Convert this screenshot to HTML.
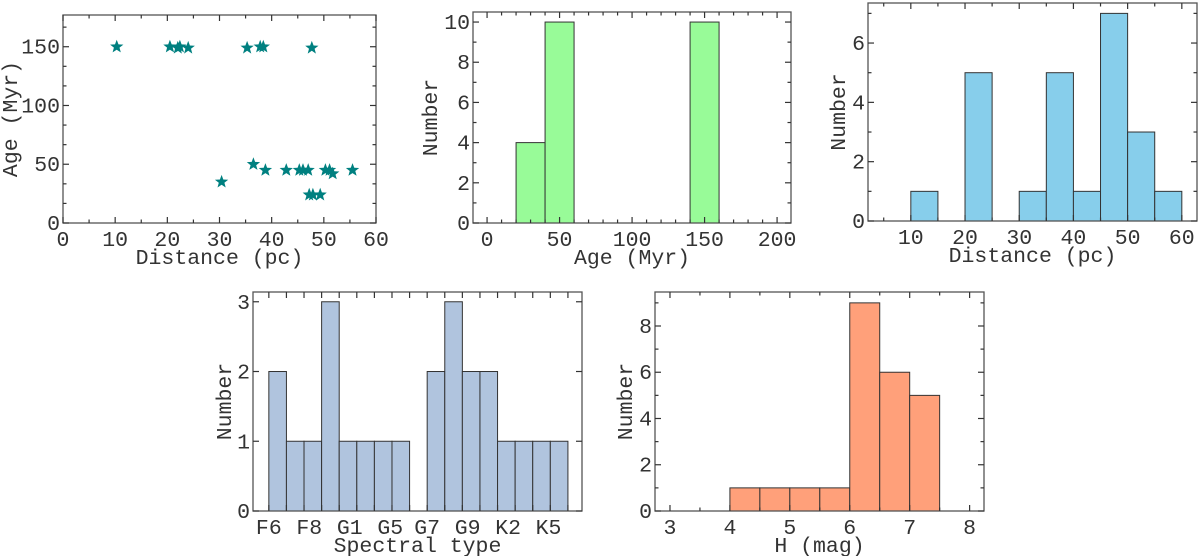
<!DOCTYPE html>
<html><head><meta charset="utf-8">
<style>
html,body{margin:0;padding:0;background:#fff;}
svg{display:block;}
text{font-family:"Liberation Mono",monospace;fill:#333;}
</style></head>
<body>
<svg id="fig" width="1200" height="556" viewBox="0 0 1200 556" xmlns="http://www.w3.org/2000/svg"></svg>
<script>
// Panel 1: scatter distance vs age
const scatterDist = [10.3,20.5,22,22.4,24,35.3,37.8,38.4,47.7,30.4,36.5,38.8,42.8,45.3,46.0,47.0,47.2,47.9,49.3,50.3,51.1,51.7,55.5];
const scatterAge  = [150,150,149,150,149,149,150,150,149,35,50,45,45,45,45,45,24,24,24,45,45,42,45];
// Panel 2: age histogram
const ageBinEdges = [20,40,60,140,160];
const ageCounts = [4,10,0,10];
const ageTicks = [0,50,100,150,200];
// Panel 3: distance histogram
const distBinEdges = [10,15,20,25,30,35,40,45,50,55,60];
const distCounts = [1,0,5,0,1,5,1,7,3,1];
const distTicks = [10,20,30,40,50,60];
// Panel 4: spectral types
const specCounts = [2,1,1,3,1,1,1,1,0,2,3,2,2,1,1,1,1];
const specLabels = ["F6","F8","G1","G5","G7","G9","K2","K5"];
const specLabelPos = [0,2.3,4.6,6.9,9,11.3,13.6,15.9];
// Panel 5: H mag histogram
const hBinEdges = [4,4.5,5,5.5,6,6.5,7,7.5];
const hCounts = [1,1,1,1,9,6,5];
const hTicks = [3,4,5,6,7,8];

const NS="http://www.w3.org/2000/svg";
const svg=document.getElementById('fig');
function el(tag,attrs,parent){const e=document.createElementNS(NS,tag);for(const k in attrs)e.setAttribute(k,attrs[k]);(parent||svg).appendChild(e);return e;}

function makeAxes(p){
  const g=el('g',{});
  
  
  const sx=v=>p.L+(v-p.x0)/(p.x1-p.x0)*(p.R-p.L);
  const sy=v=>p.B-(v-p.y0)/(p.y1-p.y0)*(p.B-p.T);
  p.sx=sx;p.sy=sy;p.g=g;
  return p;
}
function drawFrame(p){
  const g=p.g,sx=p.sx,sy=p.sy;
  const f=el('rect',{x:p.L,y:p.T,width:p.R-p.L,height:p.B-p.T,fill:'none',stroke:'#555','stroke-width':1.3},g);
  
  
  const xt=el('g',{},g);
  
  
  for(let v=p.xminorStart;v<=p.x1+1e-9;v+=p.xminor){
    if(v<p.x0-1e-9)continue;
    const X=sx(v);const major=Math.abs(v/p.xmajor-Math.round(v/p.xmajor))<1e-6;
    const len=major?6:3.5;
    el('line',{x1:X,y1:p.B,x2:X,y2:p.B-len,stroke:'#333','stroke-width':1.2},xt);
    el('line',{x1:X,y1:p.T,x2:X,y2:p.T+len,stroke:'#333','stroke-width':1.2},xt);
  }
  const yt=el('g',{},g);
  
  
  for(let v=p.y0;v<=p.y1+1e-9;v+=p.yminor){
    const Y=sy(v);const major=Math.abs(v/p.ymajor-Math.round(v/p.ymajor))<1e-6;
    const len=major?6:3.5;
    el('line',{x1:p.L,y1:Y,x2:p.L+len,y2:Y,stroke:'#333','stroke-width':1.2},yt);
    el('line',{x1:p.R,y1:Y,x2:p.R-len,y2:Y,stroke:'#333','stroke-width':1.2},yt);
  }
  p.yTicks.forEach(v=>{
    const t=el('text',{x:p.L-3,y:sy(v)+7,'text-anchor':'end','font-size':21.5},yt);t.textContent=v;
    
    
  });
  p.xTickLabels.forEach((lab,i)=>{
    const t=el('text',{x:sx(p.xTickPos[i]),y:p.B+23,'text-anchor':'middle','font-size':21.5},xt);t.textContent=lab;
    
    
  });
  const xl=el('text',{x:(p.L+p.R)/2,y:p.B+41,'text-anchor':'middle','font-size':21.5},g);xl.textContent=p.xlabel;
  
  
  const yx=p.ylabX, yy=(p.T+p.B)/2;
  const yl=el('text',{x:yx,y:yy,'text-anchor':'middle','font-size':21.5,transform:`rotate(-90 ${yx} ${yy})`},g);yl.textContent=p.ylabel;
  
  
}
function drawHist(p,edges,counts,color,nameBase){
  for(let i=0;i<counts.length;i++){
    if(!counts[i])continue;
    const x0=p.sx(edges[i]),x1=p.sx(edges[i+1]);
    const r=el('rect',{x:x0,y:p.sy(counts[i]),width:x1-x0,height:p.sy(0)-p.sy(counts[i]),fill:color,stroke:'#333','stroke-width':1},p.g);
    
    
  }
}
function star(cx,cy,R,parent){
  let pts=[];for(let k=0;k<10;k++){const a=-Math.PI/2+k*Math.PI/5;const r=k%2?R*0.42:R;pts.push((cx+r*Math.cos(a)).toFixed(1)+','+(cy+r*Math.sin(a)).toFixed(1));}
  return el('polygon',{points:pts.join(' '),fill:'#008080'},parent);
}

const p1=makeAxes({name:'scatter-age-distance',L:63,R:376,T:15,B:223,x0:0,x1:60,y0:0,y1:177,xmajor:10,xminor:5,xminorStart:0,ymajor:50,yminor:50/3,
  yTicks:[0,50,100,150],xTickPos:[0,10,20,30,40,50,60],xTickLabels:['0','10','20','30','40','50','60'],xlabel:'Distance (pc)',ylabel:'Age (Myr)',ylabX:17});
scatterDist.forEach((d,i)=>{const s=star(p1.sx(d),p1.sy(scatterAge[i]),7,p1.g);
  
  });
drawFrame(p1);

const p2=makeAxes({name:'age-histogram',L:473,R:791,T:12,B:223,x0:-9.7,x1:209.6,y0:0,y1:10.5,xmajor:50,xminor:10,xminorStart:0,ymajor:2,yminor:1,
  yTicks:[0,2,4,6,8,10],xTickPos:ageTicks,xTickLabels:ageTicks.map(String),xlabel:'Age (Myr)',ylabel:'Number',ylabX:437});
drawHist(p2,ageBinEdges,ageCounts,'#98fb98','age');
drawFrame(p2);

const p3=makeAxes({name:'distance-histogram',L:868,R:1197,T:3,B:221,x0:2.1,x1:62.8,y0:0,y1:7.35,xmajor:10,xminor:5,xminorStart:5,ymajor:2,yminor:1,
  yTicks:[0,2,4,6],xTickPos:distTicks,xTickLabels:distTicks.map(String),xlabel:'Distance (pc)',ylabel:'Number',ylabX:845});
drawHist(p3,distBinEdges,distCounts,'#87ceeb','distance');
drawFrame(p3);

const specEdges=specCounts.map((c,i)=>i).concat([specCounts.length]);
const p4=makeAxes({name:'spectral-type-histogram',L:253,R:582,T:292,B:511,x0:-0.9,x1:17.8,y0:0,y1:3.14,xmajor:1,xminor:1,xminorStart:0,ymajor:1,yminor:1,
  yTicks:[0,1,2,3],xTickPos:specLabelPos,xTickLabels:specLabels,xlabel:'Spectral type',ylabel:'Number',ylabX:231});
drawHist(p4,specEdges,specCounts,'#b0c4de','spectral');
drawFrame(p4);

const p5=makeAxes({name:'h-mag-histogram',L:655,R:984,T:292,B:511,x0:2.75,x1:8.24,y0:0,y1:9.47,xmajor:1,xminor:0.5,xminorStart:3,ymajor:2,yminor:1,
  yTicks:[0,2,4,6,8],xTickPos:hTicks,xTickLabels:hTicks.map(String),xlabel:'H (mag)',ylabel:'Number',ylabX:632});
drawHist(p5,hBinEdges,hCounts,'#ffa07a','hmag');
drawFrame(p5);
</script>
</body></html>
